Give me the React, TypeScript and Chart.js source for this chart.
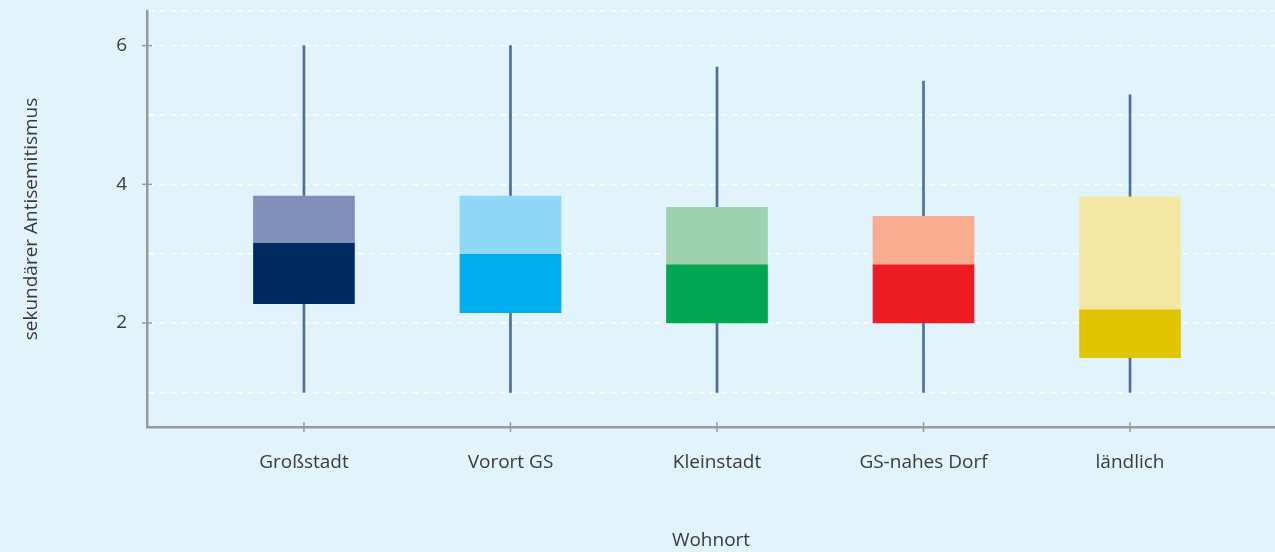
import React, { useEffect, useRef } from "react";
import { Chart, registerables } from "chart.js";

Chart.register(...registerables);

const categories = ["Großstadt", "Vorort GS", "Kleinstadt", "GS-nahes Dorf", "ländlich"];
const positions = [1, 2, 3, 4, 5];
const whiskerMin = [1.0, 1.0, 1.0, 1.0, 1.0];
const q1 = [2.28, 2.15, 2.0, 2.0, 1.5];
const median = [3.15, 2.99, 2.84, 2.84, 2.19];
const q3 = [3.83, 3.83, 3.67, 3.54, 3.82];
const whiskerMax = [6.0, 6.0, 5.69, 5.49, 5.29];
const darkColors = ["#002C61", "#00AEEF", "#00A651", "#ED1C24", "#DFC600"];
const lightColors = ["#7F8FB8", "#8FD8F7", "#9CD3AE", "#F9AB8F", "#F4E7A4"];
const yTickValues = [1, 2, 3, 4, 5, 6, 6.5];
const yLabelValues = [2, 4, 6];

const BG = "#E1F3FB";
const TEXT = "#3a3a3a";
const AXIS = "#9a9a9a";
const FONT = "'Open Sans', 'Noto Sans', sans-serif";

const crossTicks = {
  id: "crossTicks",
  afterDraw(chart: any) {
    const { ctx, scales } = chart;
    const x = scales.x;
    const y = scales.y;
    ctx.save();
    ctx.strokeStyle = AXIS;
    ctx.lineWidth = 1.5;
    yLabelValues.forEach((v) => {
      const py = y.getPixelForValue(v);
      ctx.beginPath();
      ctx.moveTo(x.left - 5, py);
      ctx.lineTo(x.left + 5, py);
      ctx.stroke();
    });
    positions.forEach((p) => {
      const px = x.getPixelForValue(p);
      ctx.beginPath();
      ctx.moveTo(px, y.bottom - 5);
      ctx.lineTo(px, y.bottom + 5);
      ctx.stroke();
    });
    ctx.restore();
  },
};

export default function App() {
  const ref = useRef<HTMLCanvasElement | null>(null);

  useEffect(() => {
    if (!ref.current) return;
    const chart = new Chart(ref.current, {
      type: "bar",
      data: {
        datasets: [
          {
            label: "Q1-Median",
            data: positions.map((p, i) => ({ x: p, y: [q1[i], median[i]] })) as any,
            backgroundColor: darkColors,
            barThickness: 101,
            grouped: false,
            order: 0,
          },
          {
            label: "Median-Q3",
            data: positions.map((p, i) => ({ x: p, y: [median[i], q3[i]] })) as any,
            backgroundColor: lightColors,
            barThickness: 101,
            grouped: false,
            order: 1,
          },
          {
            label: "Whisker",
            data: positions.map((p, i) => ({ x: p, y: [whiskerMin[i], whiskerMax[i]] })) as any,
            backgroundColor: "#4d6f9e",
            barThickness: 2,
            grouped: false,
            order: 2,
          },
        ],
      },
      options: {
        animation: false,
        responsive: false,
        maintainAspectRatio: false,
        layout: { padding: { top: 11, left: 0, right: 0, bottom: 0 } },
        plugins: { legend: { display: false }, tooltip: { enabled: false } },
        scales: {
          x: {
            type: "linear",
            min: 0.24,
            max: 5.702,
            offset: false,
            afterBuildTicks: (scale: any) => {
              scale.ticks = positions.map((v) => ({ value: v }));
            },
            afterFit: (scale: any) => {
              scale.height = 552 - 427;
              scale.paddingLeft = 0;
              scale.paddingRight = 0;
            },
            ticks: {
              callback: (v: any) => categories[positions.indexOf(Number(v))] ?? "",
              color: TEXT,
              font: { family: FONT, size: 19 },
              padding: 24,
              maxRotation: 0,
              autoSkip: false,
            },
            grid: { display: false, drawTicks: false },
            border: { display: true, color: AXIS, width: 2.5 },
            title: {
              display: true,
              text: "Wohnort",
              color: TEXT,
              font: { family: FONT, size: 19 },
              padding: { top: 0, bottom: 0 },
            },
          },
          y: {
            min: 0.5,
            max: 6.5,
            afterBuildTicks: (scale: any) => {
              scale.ticks = yTickValues.map((v) => ({ value: v }));
            },
            afterFit: (scale: any) => {
              scale.width = 147;
              scale.paddingTop = 0;
              scale.paddingBottom = 0;
            },
            ticks: {
              callback: (v: any) => (yLabelValues.includes(Number(v)) ? String(v) : ""),
              color: TEXT,
              font: { family: FONT, size: 19 },
              padding: 20,
            },
            grid: {
              color: "#ffffff",
              lineWidth: 1.5,
              drawTicks: false,
            },
            border: { display: true, color: AXIS, width: 2.5, dash: [6, 5] },
            title: {
              display: true,
              text: "sekundärer Antisemitismus",
              color: TEXT,
              font: { family: FONT, size: 19 },
              padding: { top: 20, bottom: 0 },
            },
          },
        },
      },
      plugins: [crossTicks],
    });
    return () => chart.destroy();
  }, []);

  return (
    <div
      style={{
        position: "fixed",
        left: 0,
        top: 0,
        width: 1275,
        height: 552,
        background: BG,
      }}
    >
      <canvas ref={ref} width={1275} height={552} style={{ display: "block" }} />
    </div>
  );
}
